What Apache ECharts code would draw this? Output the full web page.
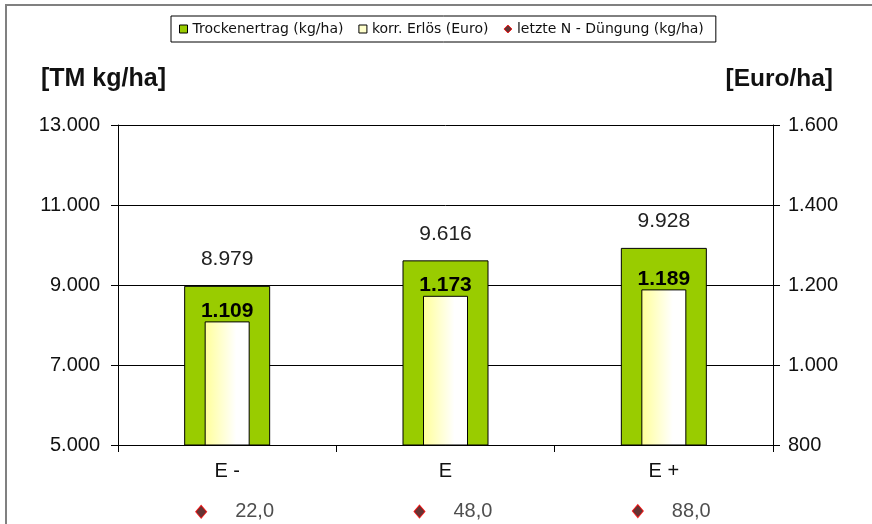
<!DOCTYPE html>
<html><head><meta charset="utf-8">
<script src="https://cdn.jsdelivr.net/npm/echarts@6/dist/echarts.min.js"></script>
<style>html,body{margin:0;padding:0;background:#fff}#c{width:872px;height:524px}</style>
</head><body><div id="c"></div>
<script>
const categories = ['E -', 'E', 'E +'];
const trockenertrag = [8979, 9616, 9928];
const erloes = [1109, 1173, 1189];
const nDuengung = [22.0, 48.0, 88.0];
const leftTicks = { min: 5000, max: 13000, interval: 2000 };
const rightTicks = { min: 800, max: 1600, interval: 200 };
const seriesNames = ['Trockenertrag (kg/ha)', 'korr. Erlös (Euro)', 'letzte N - Düngung (kg/ha)'];

function fmt(v) { return String(Math.round(v)).replace(/\B(?=(\d{3})+(?!\d))/g, '.'); }
const FONT = 'Liberation Sans';

const chart = echarts.init(document.getElementById('c'), null, { renderer: 'canvas' });
chart.setOption({
  backgroundColor: '#fff',
  animation: false,
  textStyle: { fontFamily: FONT },
  title: [
    { text: '[TM kg/ha]', left: 36, top: 62, textStyle: { fontFamily: FONT, fontSize: 25, fontWeight: 'bold', color: '#111' } },
    { text: '[Euro/ha]', right: 34, top: 62, textStyle: { fontFamily: FONT, fontSize: 24.5, fontWeight: 'bold', color: '#111' } }
  ],
  legend: {
    left: 171, top: 16,
    borderColor: '#000', borderWidth: 1, padding: [6, 12, 6, 8],
    itemWidth: 8, itemHeight: 8, itemGap: 15,
    textStyle: { fontFamily: 'DejaVu Sans', fontSize: 14, color: '#111' },
    data: [
      { name: seriesNames[0], icon: 'rect', itemStyle: { color: '#99CC00', borderColor: '#000', borderWidth: 1 } },
      { name: seriesNames[1], icon: 'rect', itemStyle: { color: '#FFFFCC', borderColor: '#000', borderWidth: 1 } },
      { name: seriesNames[2], icon: 'diamond', itemStyle: { color: '#400000', borderColor: '#FF0000', borderWidth: 1 } }
    ]
  },
  graphic: [
    { type: 'polyline', silent: true, shape: { points: [[6, 530], [6, 5], [880, 5]] }, style: { stroke: '#808080', lineWidth: 2, fill: null } }
  ],
  grid: [
    { left: 118, right: 99, top: 125, bottom: 79 },
    { left: 118, right: 99, top: 511, height: 1 }
  ],
  xAxis: [
    { type: 'category', gridIndex: 0, data: categories,
      axisLine: { lineStyle: { color: '#000', width: 1 } },
      axisTick: { show: true, length: 7, lineStyle: { color: '#000' } },
      axisLabel: { fontFamily: FONT, fontSize: 20, color: '#111', margin: 16 } },
    { type: 'category', gridIndex: 0, data: categories, show: false },
    { type: 'category', gridIndex: 1, data: categories, show: false }
  ],
  yAxis: [
    { type: 'value', gridIndex: 0, position: 'left', min: leftTicks.min, max: leftTicks.max, interval: leftTicks.interval,
      axisLine: { show: true, lineStyle: { color: '#000' } },
      axisTick: { show: true, length: 7, lineStyle: { color: '#000' } },
      splitLine: { show: true, lineStyle: { color: '#000', width: 1 } },
      axisLabel: { formatter: fmt, fontFamily: FONT, fontSize: 20, color: '#111', margin: 18 } },
    { type: 'value', gridIndex: 0, position: 'right', min: rightTicks.min, max: rightTicks.max, interval: rightTicks.interval,
      axisLine: { show: true, lineStyle: { color: '#000' } },
      axisTick: { show: true, length: 7, lineStyle: { color: '#000' } },
      splitLine: { show: false },
      axisLabel: { formatter: fmt, fontFamily: FONT, fontSize: 20, color: '#111', margin: 15 } },
    { type: 'value', gridIndex: 1, min: 0, max: 100, show: false }
  ],
  series: [
    { name: seriesNames[0], type: 'bar', xAxisIndex: 0, yAxisIndex: 0, data: trockenertrag, barWidth: 86,
      itemStyle: { color: '#99CC00', borderColor: '#000', borderWidth: 1 },
      label: { show: true, position: 'top', distance: 16, formatter: p => fmt(p.value), fontFamily: FONT, fontSize: 21, color: '#222' } },
    { name: seriesNames[1], type: 'bar', xAxisIndex: 1, yAxisIndex: 1, data: erloes, barWidth: 45,
      itemStyle: { borderColor: '#000', borderWidth: 1,
        color: new echarts.graphic.LinearGradient(0, 0, 1, 0, [
          { offset: 0, color: '#FFFF99' }, { offset: 0.7, color: '#FFFFFF' }, { offset: 1, color: '#FFFFFF' }]) },
      label: { show: true, position: 'top', distance: 0, formatter: p => fmt(p.value), fontFamily: FONT, fontSize: 21, fontWeight: 'bold', color: '#000' } },
    { name: seriesNames[2], type: 'scatter', xAxisIndex: 2, yAxisIndex: 2, data: nDuengung,
      symbol: 'diamond', symbolSize: [11, 13], symbolOffset: [-26, 0],
      itemStyle: { color: '#400000', borderColor: '#FF0000', borderWidth: 1 },
      label: { show: true, position: 'right', distance: 28,
        formatter: p => p.value.toFixed(1).replace('.', ','), fontFamily: FONT, fontSize: 20, color: '#222' } }
  ]
});
</script></body></html>
